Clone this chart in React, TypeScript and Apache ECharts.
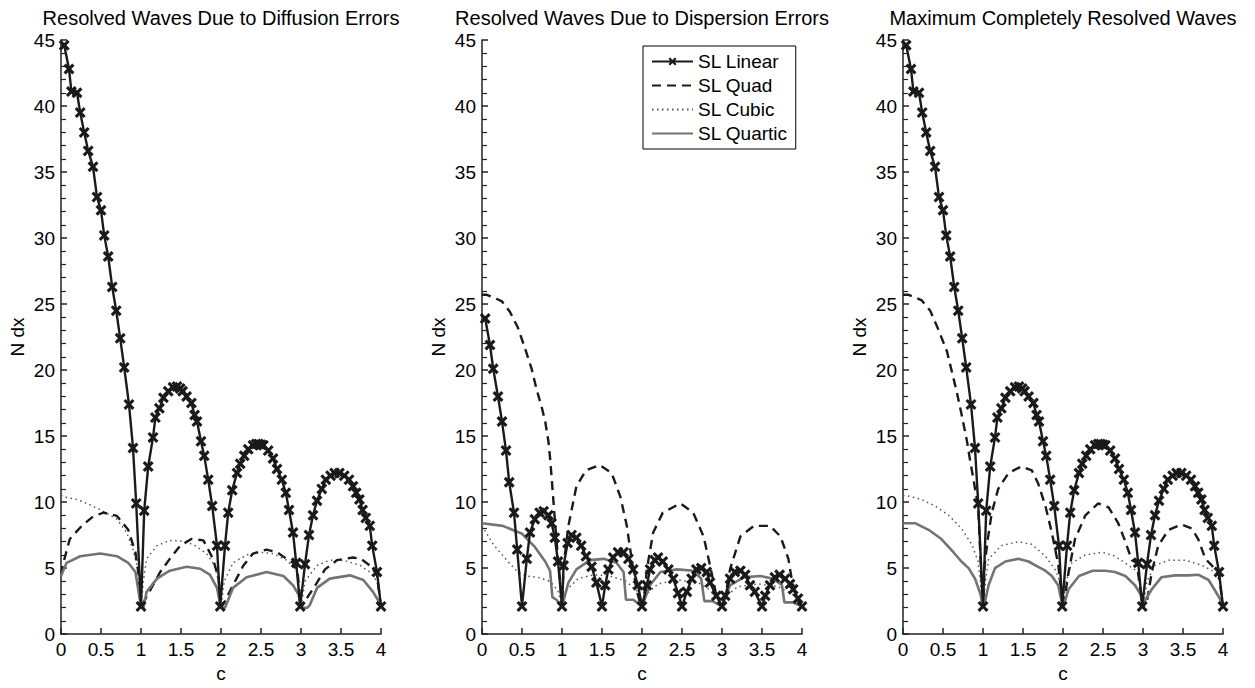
import React, { useEffect, useRef } from "react";
import * as echarts from "echarts";

// ---------- texts ----------
const panelTitles = [
  "Resolved Waves Due to Diffusion Errors",
  "Resolved Waves Due to Dispersion Errors",
  "Maximum Completely Resolved Waves",
];
const seriesNames = ["SL Linear", "SL Quad", "SL Cubic", "SL Quartic"];
const xAxisName = "c";
const yAxisName = "N dx";

// ---------- panel 1: diffusion ----------
const linearDiffusionC = [
  0.04, 0.1, 0.13, 0.2, 0.24, 0.29, 0.34, 0.4, 0.45, 0.5, 0.54, 0.59, 0.64, 0.69, 0.74, 0.79, 0.85, 0.9, 0.94, 1.0,
  1.04, 1.09, 1.15, 1.18, 1.23, 1.28, 1.34, 1.4, 1.45, 1.49, 1.52, 1.57, 1.63, 1.67, 1.7, 1.75, 1.79, 1.84, 1.89, 1.95, 1.99,
  2.05, 2.09, 2.14, 2.2, 2.24, 2.29, 2.34, 2.4, 2.44, 2.47, 2.5, 2.53, 2.59, 2.65, 2.7, 2.76, 2.81, 2.85, 2.9, 2.94, 2.99,
  3.05, 3.1, 3.15, 3.2, 3.26, 3.31, 3.37, 3.42, 3.48, 3.54, 3.6, 3.65, 3.69, 3.73, 3.77, 3.81, 3.86, 3.89, 3.95, 4.0,
];
const linearDiffusionN = [
  44.6, 42.8, 41.1, 41.0, 39.5, 38.0, 36.6, 35.4, 33.1, 32.1, 30.2, 28.6, 26.3, 24.5, 22.4, 20.2, 17.4, 14.1, 9.9, 2.1,
  9.35, 12.7, 14.9, 16.4, 17.1, 17.9, 18.4, 18.7, 18.75, 18.6, 18.4, 18.0, 17.5, 16.6, 16.1, 14.6, 13.5, 11.7, 9.7, 6.7, 2.1,
  6.7, 9.2, 10.9, 12.2, 12.9, 13.5, 14.0, 14.3, 14.4, 14.4, 14.35, 14.3, 13.9, 13.3, 12.5, 11.7, 10.7, 9.4, 7.7, 5.4, 2.1,
  5.3, 7.5, 9.0, 10.1, 11.0, 11.7, 12.0, 12.2, 12.2, 12.0, 11.7, 11.2, 10.7, 10.2, 9.4, 8.8, 8.2, 6.7, 4.7, 2.1,
];
const quadDiffusionC = [
  0, 0.03, 0.11, 0.26, 0.4, 0.53, 0.7, 0.84, 0.93, 0.97, 1.0, 1.04, 1.15, 1.24, 1.36, 1.49, 1.63, 1.78, 1.9, 1.97,
  2.0, 2.05, 2.15, 2.28, 2.4, 2.57, 2.7, 2.82, 2.9, 2.96, 3.0, 3.05, 3.18, 3.3, 3.45, 3.65, 3.75, 3.86, 3.95, 4.0,
];
const quadDiffusionN = [
  4.5, 5.4, 7.2, 8.2, 8.9, 9.2, 8.95, 7.9, 6.2, 4.5, 2.0, 2.5, 3.7, 4.7, 5.7, 6.7, 7.2, 7.1, 5.7, 4.2,
  2.0, 2.5, 3.7, 5.2, 6.1, 6.4, 6.2, 5.7, 5.4, 4.5, 2.0, 2.5, 3.7, 4.9, 5.6, 5.8, 5.7, 5.2, 4.5, 2.0,
];
const cubicDiffusionC = [
  0, 0.03, 0.2, 0.36, 0.53, 0.7, 0.82, 0.9, 0.97, 1.0, 1.03, 1.07, 1.2, 1.36, 1.49, 1.65, 1.82, 1.92,
  1.97, 2.0, 2.04, 2.15, 2.32, 2.49, 2.65, 2.82, 2.95, 3.0, 3.05, 3.2, 3.36, 3.53, 3.74, 3.86, 3.95, 4.0,
];
const cubicDiffusionN = [
  10.5, 10.4, 10.2, 9.8, 9.3, 8.7, 7.7, 6.4, 4.7, 2.0, 4.0, 5.7, 6.7, 7.1, 7.05, 6.8, 6.1, 5.2,
  4.0, 2.0, 4.0, 5.4, 6.0, 6.2, 6.1, 5.6, 4.8, 2.0, 4.0, 5.2, 5.6, 5.6, 5.2, 4.7, 4.0, 2.0,
];
const quarticDiffusionC = [
  0, 0.07, 0.24, 0.49, 0.7, 0.84, 0.93, 0.97, 1.0, 1.03, 1.07, 1.2, 1.36, 1.57, 1.74, 1.86, 1.95, 2.0,
  2.05, 2.15, 2.32, 2.57, 2.78, 2.9, 2.97, 3.0, 3.08, 3.11, 3.2, 3.36, 3.61, 3.78, 3.9, 3.96, 4.0,
];
const quarticDiffusionN = [
  4.4, 5.4, 5.9, 6.1, 5.9, 5.4, 4.7, 3.2, 2.0, 2.0, 3.2, 4.2, 4.8, 5.1, 4.95, 4.5, 3.5, 2.0,
  2.0, 3.5, 4.3, 4.7, 4.4, 3.7, 3.0, 2.0, 2.0, 2.2, 3.5, 4.2, 4.45, 4.1, 3.2, 2.6, 2.0,
];

// ---------- panel 2: dispersion ----------
const linearDispersionC = [
  0.04, 0.1, 0.14, 0.2, 0.25, 0.3, 0.34, 0.4, 0.44, 0.5, 0.56, 0.6, 0.66, 0.72, 0.77, 0.83, 0.87, 0.91, 0.95, 1.0,
  1.02, 1.07, 1.12, 1.18, 1.24, 1.3, 1.37, 1.43, 1.5, 1.54, 1.58, 1.64, 1.7, 1.77, 1.83, 1.89, 1.95, 2.0, 2.06, 2.1,
  2.16, 2.2, 2.26, 2.33, 2.39, 2.45, 2.5, 2.56, 2.62, 2.68, 2.74, 2.81, 2.85, 2.93, 3.0, 3.04, 3.1, 3.16, 3.23, 3.29,
  3.35, 3.41, 3.5, 3.54, 3.6, 3.66, 3.72, 3.79, 3.85, 3.89, 3.95, 4.0,
];
const linearDispersionN = [
  23.9, 21.9, 20.1, 18.0, 16.1, 13.9, 11.5, 9.2, 6.4, 2.1, 5.7, 7.7, 8.7, 9.2, 9.3, 9.0, 8.4, 7.3, 5.5, 2.1,
  5.2, 6.9, 7.5, 7.3, 6.7, 5.9, 5.1, 3.9, 2.1, 3.7, 4.9, 5.8, 6.2, 6.2, 5.7, 4.9, 3.7, 2.1, 3.7, 4.9,
  5.6, 5.8, 5.5, 4.9, 4.2, 3.1, 2.1, 3.2, 4.2, 4.9, 5.0, 4.7, 3.9, 2.9, 2.1, 2.9, 4.2, 4.7, 4.8, 4.5,
  3.7, 3.2, 2.1, 2.9, 3.7, 4.3, 4.5, 4.2, 3.8, 3.4, 2.7, 2.1,
];
const quadDispersionC = [
  0, 0.06, 0.18, 0.25, 0.35, 0.45, 0.54, 0.62, 0.68, 0.75, 0.79, 0.83, 0.85, 0.87, 0.91, 0.95, 0.98, 1.0, 1.02, 1.08,
  1.18, 1.3, 1.47, 1.62, 1.73, 1.81, 1.87, 1.93, 1.97, 2.0, 2.04, 2.06, 2.14, 2.26, 2.48, 2.64, 2.77, 2.85, 2.92, 3.0,
  3.06, 3.1, 3.23, 3.4, 3.6, 3.73, 3.83, 3.87, 3.93, 4.0,
];
const quadDispersionN = [
  25.7, 25.7, 25.4, 25.2, 24.4, 23.2, 21.6, 20.1, 18.6, 17.1, 16.1, 14.6, 13.4, 11.9, 8.7, 5.7, 3.8, 2.0, 5.2, 8.2,
  11.2, 12.4, 12.8, 12.2, 10.4, 8.2, 5.7, 3.4, 2.5, 2.0, 3.5, 4.9, 7.7, 9.2, 9.9, 9.2, 7.4, 5.2, 3.2, 2.0,
  3.5, 4.9, 7.4, 8.2, 8.2, 7.4, 5.7, 4.2, 2.8, 2.0,
];
const cubicDispersionC = [
  0, 0.14, 0.31, 0.43, 0.55, 0.7, 0.85, 0.95, 1.0, 1.05, 1.2, 1.4, 1.6, 1.8, 1.95, 2.0, 2.05, 2.2, 2.45, 2.7,
  2.95, 3.0, 3.05, 3.2, 3.45, 3.7, 3.95, 4.0,
];
const cubicDispersionN = [
  8.2, 6.8, 5.6, 4.8, 4.4, 4.3, 4.0, 3.3, 2.0, 3.3, 4.2, 4.5, 4.4, 4.0, 3.2, 2.0, 3.0, 3.8, 4.1, 3.9,
  3.0, 2.0, 2.9, 3.6, 3.8, 3.6, 2.8, 2.0,
];
const quarticDispersionC = [
  0, 0.26, 0.5, 0.66, 0.79, 0.85, 0.88, 0.93, 1.0, 1.08, 1.18, 1.35, 1.52, 1.68, 1.77, 1.8, 1.89, 2.0, 2.1, 2.23,
  2.44, 2.64, 2.74, 2.78, 2.88, 3.0, 3.1, 3.27, 3.48, 3.64, 3.75, 3.78, 3.88, 4.0,
];
const quarticDispersionN = [
  8.4, 8.2, 7.6, 6.6, 5.5, 4.8, 2.8, 2.6, 2.1, 3.9, 4.9, 5.6, 5.7, 5.4, 4.7, 2.6, 2.6, 2.1, 3.7, 4.7,
  4.9, 4.8, 4.2, 2.5, 2.5, 2.1, 3.7, 4.3, 4.4, 4.2, 3.7, 2.4, 2.4, 2.1,
];

// ---------- panel 3: maximum ----------
const linearMaxC = linearDiffusionC;
const linearMaxN = linearDiffusionN;
const quadMaxC = [
  0, 0.07, 0.23, 0.34, 0.44, 0.55, 0.61, 0.67, 0.73, 0.8, 0.84, 0.87, 0.94, 0.97, 1.0, 1.02, 1.06, 1.11, 1.19, 1.32,
  1.48, 1.61, 1.69, 1.78, 1.86, 1.94, 2.0, 2.04, 2.07, 2.15, 2.28, 2.44, 2.57, 2.69, 2.78, 2.86, 2.92, 3.0, 3.05, 3.11,
  3.19, 3.32, 3.48, 3.61, 3.69, 3.78, 3.86, 3.95, 4.0,
];
const quadMaxN = [
  25.7, 25.7, 25.3, 24.5, 23.1, 21.4, 19.9, 18.4, 16.7, 14.6, 13.1, 12.1, 9.6, 5.6, 2.0, 5.2, 7.2, 9.2, 11.0, 12.2,
  12.7, 12.4, 11.4, 9.7, 7.7, 5.3, 2.0, 3.5, 4.7, 7.2, 9.0, 9.9, 9.6, 8.4, 7.0, 5.6, 5.4, 2.0, 2.5, 4.7,
  6.7, 7.9, 8.3, 8.0, 7.2, 5.7, 5.2, 4.5, 2.0,
];
const cubicMaxC = [
  0, 0.04, 0.23, 0.4, 0.57, 0.73, 0.86, 0.94, 1.0, 1.03, 1.07, 1.23, 1.44, 1.61, 1.78, 1.9, 1.96, 2.0, 2.04, 2.11,
  2.28, 2.49, 2.65, 2.82, 2.94, 3.0, 3.05, 3.15, 3.32, 3.53, 3.74, 3.9, 3.96, 4.0,
];
const cubicMaxN = [
  10.5, 10.5, 10.2, 9.7, 9.0, 8.0, 6.8, 5.5, 2.0, 4.0, 5.7, 6.7, 7.0, 6.8, 5.9, 4.9, 4.0, 2.0, 4.0, 5.4,
  6.0, 6.2, 5.9, 5.2, 4.7, 2.0, 4.0, 5.2, 5.6, 5.6, 5.2, 4.7, 4.0, 2.0,
];
const quarticMaxC = [
  0, 0.15, 0.32, 0.48, 0.63, 0.73, 0.82, 0.9, 0.97, 1.0, 1.03, 1.07, 1.15, 1.28, 1.44, 1.57, 1.69, 1.78, 1.86, 1.94,
  2.0, 2.03, 2.07, 2.2, 2.37, 2.53, 2.65, 2.78, 2.9, 2.97, 3.0, 3.03, 3.11, 3.23, 3.4, 3.57, 3.69, 3.82, 3.9, 3.96, 4.0,
];
const quarticMaxN = [
  8.4, 8.4, 7.9, 7.2, 6.2, 5.5, 5.0, 4.2, 3.0, 2.0, 2.6, 3.7, 5.0, 5.5, 5.7, 5.5, 5.1, 4.8, 4.4, 3.7,
  2.0, 2.6, 3.4, 4.4, 4.8, 4.8, 4.7, 4.4, 3.7, 3.0, 2.0, 2.6, 3.4, 4.3, 4.45, 4.45, 4.5, 4.1, 3.3, 2.7, 2.0,
];

const panelData = [
  [[linearDiffusionC, linearDiffusionN], [quadDiffusionC, quadDiffusionN], [cubicDiffusionC, cubicDiffusionN], [quarticDiffusionC, quarticDiffusionN]],
  [[linearDispersionC, linearDispersionN], [quadDispersionC, quadDispersionN], [cubicDispersionC, cubicDispersionN], [quarticDispersionC, quarticDispersionN]],
  [[linearMaxC, linearMaxN], [quadMaxC, quadMaxN], [cubicMaxC, cubicMaxN], [quarticMaxC, quarticMaxN]],
];

const FONT = "'Liberation Sans', Arial, Helvetica, sans-serif";
const X_MARK = "path://M0,2L2,0L5,3L8,0L10,2L7,5L10,8L8,10L5,7L2,10L0,8L3,5Z";

const gridLefts = [61, 482, 903];
const GRID_TOP = 40;
const GRID_W = 320;
const GRID_H = 603;

const seriesStyles = [
  { color: "#1a1a1a", width: 2.4, type: "solid", symbol: X_MARK, symbolSize: 11, z: 6 },
  { color: "#1a1a1a", width: 2.4, type: [9, 6], symbol: "none", symbolSize: 0, z: 4 },
  { color: "#555555", width: 1.5, type: [1.5, 3.5], symbol: "none", symbolSize: 0, z: 3 },
  { color: "#737373", width: 2.6, type: "solid", symbol: "none", symbolSize: 0, z: 5 },
];

export default function App() {
  const ref = useRef<HTMLDivElement>(null);

  useEffect(() => {
    if (!ref.current) return;
    const chart = echarts.init(ref.current, null, { renderer: "svg" });

    const grids = gridLefts.map((left) => ({
      left,
      top: GRID_TOP,
      width: GRID_W,
      height: GRID_H,
      containLabel: false,
    }));

    const axisLineStyle = { color: "#222", width: 1.5 };

    const xAxes = gridLefts.map((_, i) => ({
      type: "value",
      gridIndex: i,
      min: 0,
      max: 4,
      interval: 0.5,
      name: xAxisName,
      nameLocation: "middle",
      nameGap: 27,
      nameTextStyle: { fontSize: 19, color: "#000", fontFamily: FONT },
      axisLine: { show: true, lineStyle: axisLineStyle },
      axisTick: { show: true, inside: true, length: 6, lineStyle: axisLineStyle },
      axisLabel: { color: "#000", fontSize: 19, fontFamily: FONT, margin: 6, formatter: (v: number) => String(v) },
      splitLine: { show: false },
    }));

    const yAxes = gridLefts.map((_, i) => ({
      type: "value",
      gridIndex: i,
      min: 0,
      max: 45,
      interval: 5,
      name: yAxisName,
      nameLocation: "middle",
      nameRotate: 90,
      nameGap: 34,
      nameTextStyle: { fontSize: 19, color: "#000", fontFamily: FONT },
      axisLine: { show: true, lineStyle: axisLineStyle },
      axisTick: { show: true, inside: true, length: 6, lineStyle: axisLineStyle },
      minorTick: { show: true, splitNumber: 5, length: 5, lineStyle: { color: "#222", width: 1.2 } },
      axisLabel: { color: "#000", fontSize: 19, fontFamily: FONT, margin: 6 },
      splitLine: { show: false },
    }));

    const series: any[] = [];
    panelData.forEach((panel, p) => {
      panel.forEach(([cs, ns], s) => {
        const st = seriesStyles[s];
        series.push({
          name: seriesNames[s],
          type: "line",
          xAxisIndex: p,
          yAxisIndex: p,
          data: cs.map((c, k) => [c, ns[k]]),
          symbol: st.symbol,
          symbolSize: st.symbolSize,
          showSymbol: st.symbol !== "none",
          symbolKeepAspect: true,
          itemStyle: { color: st.color },
          lineStyle: { color: st.color, width: st.width, type: st.type },
          z: st.z,
          silent: true,
        });
      });
    });

    const hidden = { color: "rgba(0,0,0,0)", borderColor: "rgba(0,0,0,0)", borderWidth: 0, opacity: 0 };

    chart.setOption({
      animation: false,
      backgroundColor: "#fff",
      title: panelTitles.map((t, i) => ({
        text: t,
        left: gridLefts[i] + GRID_W / 2,
        textAlign: "center",
        top: 8,
        padding: 0,
        textStyle: { fontSize: 20, fontWeight: "normal", color: "#000", fontFamily: FONT },
      })),
      legend: {
        data: seriesNames.map((n, i) => (i === 0 ? { name: n } : { name: n, itemStyle: hidden })),
        orient: "vertical",
        left: 643,
        top: 46,
        itemWidth: 41,
        itemHeight: 10,
        itemGap: 5,
        padding: [6, 8, 6, 8],
        borderColor: "#000",
        borderWidth: 1,
        backgroundColor: "#fff",
        selectedMode: false,
        textStyle: { fontSize: 19, color: "#000", fontFamily: FONT },
      },
      grid: grids,
      xAxis: xAxes,
      yAxis: yAxes,
      series,
    });

    return () => chart.dispose();
  }, []);

  return (
    <div
      ref={ref}
      style={{ position: "fixed", left: 0, top: 0, width: 1255, height: 688, background: "#fff" }}
    />
  );
}
